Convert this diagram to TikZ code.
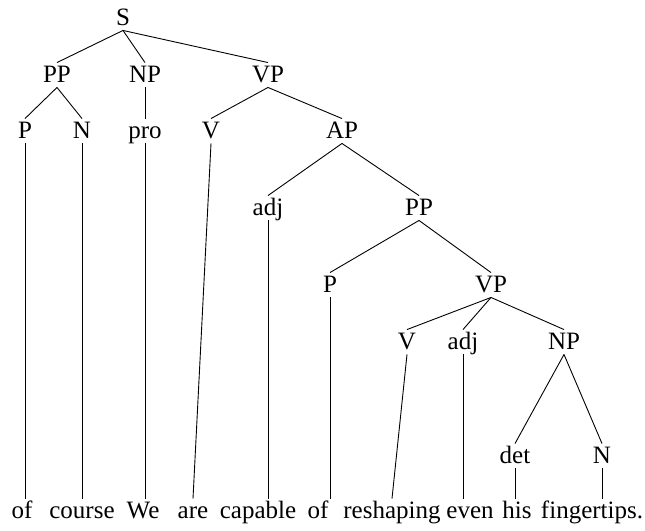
\documentclass[tikz,border=0pt]{standalone}
\usepackage{fontspec}
\setmainfont{Liberation Serif}

\begin{document}
\begin{tikzpicture}[x=1pt,y=-1pt,line width=0.9pt,
treenode/.style={anchor=base, inner sep=1pt, text height=18pt, text depth=4pt, font=\fontsize{25}{29}\selectfont},
]
\useasboundingbox (0,0) rectangle (645,530);

\node[treenode] (s) at (123,25) {S};

\node[treenode] (ppa) at (57,82) {PP};
\node[treenode] (npa) at (145,82) {NP};
\node[treenode] (vpa) at (268,82) {VP};

\node[treenode] (pa) at (25,138) {P};
\node[treenode] (na) at (82,138) {N};
\node[treenode] (pro) at (145,138) {pro};
\node[treenode] (va) at (211,138) {V};
\node[treenode] (ap) at (342,138) {AP};

\node[treenode] (adja) at (268,215) {adj};
\node[treenode] (ppb) at (419,215) {PP};

\node[treenode] (pb) at (330,292) {P};
\node[treenode] (vpb) at (491,292) {VP};

\node[treenode] (vb) at (407,349) {V};
\node[treenode] (adjb) at (463,349) {adj};
\node[treenode] (npb) at (564,349) {NP};

\node[treenode] (det) at (515,463) {det};
\node[treenode] (nb) at (602,463) {N};

% words
\node[treenode] (w1) at (22,518) {of};
\node[treenode] (w2) at (82,518) {course};
\node[treenode] (w3) at (143,518) {We};
\node[treenode] (w4) at (193,518) {are};
\node[treenode] (w5) at (258,518) {capable};
\node[treenode] (w6) at (318,518) {of};
\node[treenode] (w7) at (392,518) {reshaping};
\node[treenode] (w8) at (470,518) {even};
\node[treenode] (w9) at (517,518) {his};
\node[treenode] (w10) at (592,518) {fingertips.};

\draw[-] (s.south) -- (ppa.north);
\draw[-] (s.south) -- (npa.north);
\draw[-] (s.south) -- (vpa.north);
\draw[-] (ppa.south) -- (pa.north);
\draw[-] (ppa.south) -- (na.north);
\draw[-] (npa.south) -- (pro.north);
\draw[-] (vpa.south) -- (va.north);
\draw[-] (vpa.south) -- (ap.north);
\draw[-] (ap.south) -- (adja.north);
\draw[-] (ap.south) -- (ppb.north);
\draw[-] (ppb.south) -- (pb.north);
\draw[-] (ppb.south) -- (vpb.north);
\draw[-] (vpb.south) -- (vb.north);
\draw[-] (vpb.south) -- (adjb.north);
\draw[-] (vpb.south) -- (npb.north);
\draw[-] (npb.south) -- (det.north);
\draw[-] (npb.south) -- (nb.north);
% leaves
\draw[-] (pa.south) -- (pa.south |- w1.north);
\draw[-] (na.south) -- (na.south |- w2.north);
\draw[-] (pro.south) -- (pro.south |- w3.north);
\draw[-] (va.south) -- (w4.north);
\draw[-] (adja.south) -- (adja.south |- w5.north);
\draw[-] (pb.south) -- (pb.south |- w6.north);
\draw[-] (vb.south) -- (w7.north);
\draw[-] (adjb.south) -- (adjb.south |- w8.north);
\draw[-] (det.south) -- (det.south |- w9.north);
\draw[-] (nb.south) -- (nb.south |- w10.north);

\end{tikzpicture}
\end{document}
